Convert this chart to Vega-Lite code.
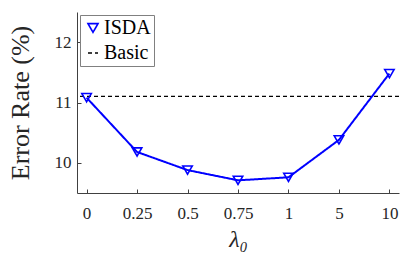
{
  "$schema": "https://vega.github.io/schema/vega-lite/v6.json",
  "width": 322,
  "height": 181,
  "autosize": {"type": "none"},
  "padding": {"left": 77, "top": 12, "right": 8, "bottom": 60},
  "background": "white",
  "config": {
    "view": {"stroke": null},
    "font": "Liberation Serif",
    "axis": {
      "domainColor": "#404040",
      "tickColor": "#404040",
      "labelColor": "#262626",
      "titleColor": "#262626",
      "labelFont": "Liberation Serif",
      "titleFont": "Liberation Serif",
      "titleFontWeight": "normal",
      "labelFontSize": 17,
      "grid": false,
      "ticks": true,
      "tickSize": -4,
      "tickWidth": 1,
      "domainWidth": 1
    },
    "legend": {
      "labelFont": "Liberation Serif",
      "labelFontSize": 20,
      "labelColor": "#000000"
    }
  },
  "datasets": {
    "isda": [
      {"lambda": "0", "rate": 11.08, "series": "ISDA"},
      {"lambda": "0.25", "rate": 10.18, "series": "ISDA"},
      {"lambda": "0.5", "rate": 9.88, "series": "ISDA"},
      {"lambda": "0.75", "rate": 9.71, "series": "ISDA"},
      {"lambda": "1", "rate": 9.76, "series": "ISDA"},
      {"lambda": "5", "rate": 10.38, "series": "ISDA"},
      {"lambda": "10", "rate": 11.48, "series": "ISDA"}
    ],
    "basic": [
      {"rate": 11.1, "series": "Basic"}
    ]
  },
  "layer": [
    {
      "data": {"name": "basic"},
      "mark": {"type": "rule", "strokeWidth": 1.2},
      "encoding": {
        "y": {"field": "rate", "type": "quantitative"},
        "color": {"field": "series", "type": "nominal"},
        "strokeDash": {"field": "series", "type": "nominal"}
      }
    },
    {
      "data": {"name": "isda"},
      "mark": {"type": "line", "strokeWidth": 2},
      "encoding": {
        "x": {"field": "lambda", "type": "ordinal", "sort": ["0", "0.25", "0.5", "0.75", "1", "5", "10"]},
        "y": {"field": "rate", "type": "quantitative"},
        "color": {"field": "series", "type": "nominal"},
        "strokeDash": {"field": "series", "type": "nominal"}
      }
    },
    {
      "data": {"name": "isda"},
      "mark": {"type": "point", "filled": false, "size": 90, "strokeWidth": 1.6, "opacity": 1},
      "encoding": {
        "x": {
          "field": "lambda",
          "type": "ordinal",
          "sort": ["0", "0.25", "0.5", "0.75", "1", "5", "10"],
          "scale": {"type": "point", "padding": 0.19},
          "axis": {
            "title": "λ₀",
            "titleFont": "Liberation Serif",
            "titleFontSize": 24,
            "titleFontStyle": "italic",
            "labelAngle": 0,
            "labelAlign": "center",
            "labelBaseline": "top",
            "labelPadding": 16,
            "titlePadding": 6
          }
        },
        "y": {
          "field": "rate",
          "type": "quantitative",
          "scale": {"domain": [9.5, 12.5], "zero": false, "nice": false},
          "axis": {
            "title": "Error Rate (%)",
            "titleFont": "Liberation Serif",
            "titleFontSize": 26,
            "values": [10, 11, 12],
            "format": "d",
            "labelAlign": "right",
            "labelBaseline": "middle",
            "labelPadding": 10,
            "titlePadding": 21
          }
        },
        "color": {
          "field": "series",
          "type": "nominal",
          "scale": {"domain": ["ISDA", "Basic"], "range": ["#0000ff", "#000000"]},
          "legend": {
            "title": null,
            "orient": "top-left",
            "offset": 3,
            "padding": 3,
            "strokeColor": "#808080",
            "fillColor": "white",
            "symbolStrokeWidth": 1.6,
            "symbolSize": 100,
            "labelOffset": 1,
            "rowPadding": 5
          }
        },
        "strokeDash": {
          "field": "series",
          "type": "nominal",
          "scale": {"domain": ["ISDA", "Basic"], "range": [[1, 0], [4, 3]]}
        },
        "shape": {
          "field": "series",
          "type": "nominal",
          "scale": {"domain": ["ISDA", "Basic"], "range": ["triangle-down", "stroke"]}
        }
      }
    }
  ]
}
